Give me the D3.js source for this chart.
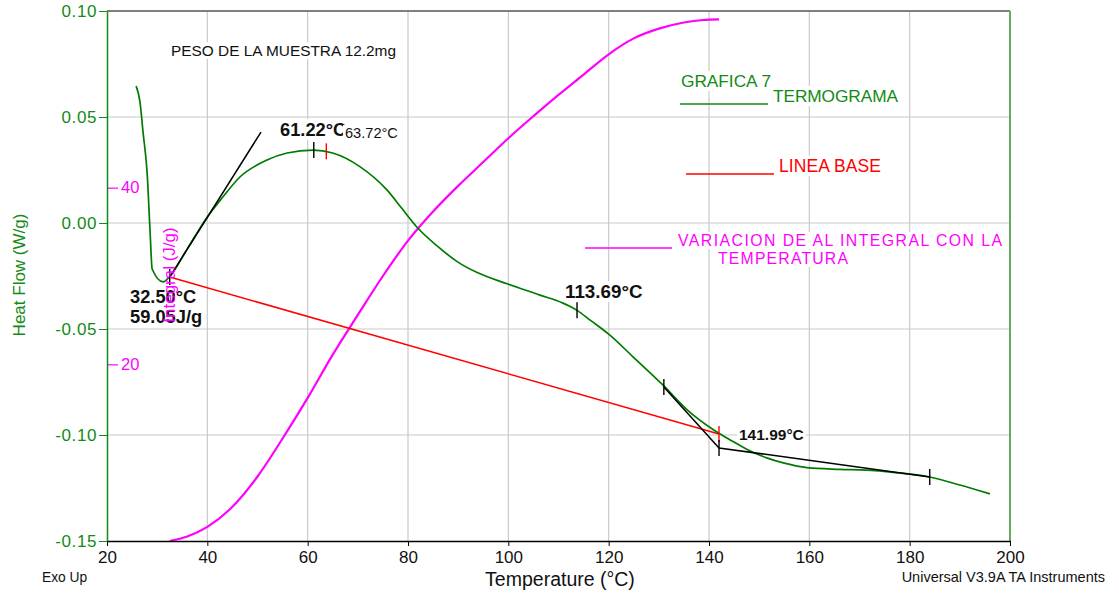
<!DOCTYPE html>
<html>
<head>
<meta charset="utf-8">
<script src="https://cdn.jsdelivr.net/npm/d3@7"></script>
<style>
  body { margin: 0; background: #fff; }
  svg { display: block; font-family: "Liberation Sans", Arial, sans-serif; }
</style>
</head>
<body>
<div id="chart"></div>
<script>
// heat flow (W/g), [temperature °C, W/g]
const heatFlow = [
  [25.8, 0.0646], [26.6, 0.0566], [27.2, 0.0425], [28.0, 0.0236], [28.6, -0.0047],
  [29.0, -0.0217], [31.2, -0.0278], [32.5, -0.0252], [36.0, -0.0122], [39.9, 0.0025],
  [43.0, 0.0120], [46.5, 0.0217], [51.9, 0.0297], [55.9, 0.0330], [61.1, 0.0344],
  [65.0, 0.0330], [70.4, 0.0266], [75.8, 0.0156], [78.8, 0.0068], [81.8, -0.0020],
  [85.8, -0.0108], [89.8, -0.0182], [93.8, -0.0234], [99.9, -0.0288], [106.3, -0.0340],
  [110.9, -0.0378], [113.7, -0.0412], [116.3, -0.0458], [120.3, -0.0530], [124.8, -0.0630],
  [130.8, -0.0764], [135.6, -0.0880], [140.8, -0.0974], [144.8, -0.1031], [147.6, -0.1068],
  [151.5, -0.1108], [155.0, -0.1133], [159.5, -0.1154], [166.1, -0.1162], [171.5, -0.1166],
  [176.7, -0.1176], [184.0, -0.1198], [190.0, -0.1236], [196.0, -0.1278]
];

// running integral (J/g), [temperature °C, J/g]
const integral = [
  [32.5, 0], [36.0, 0.5], [40.0, 1.6], [44.5, 3.6], [50.0, 7.3], [55.0, 11.6],
  [60.0, 16.2], [65.0, 21.1], [70.0, 25.6], [75.0, 30.0], [80.0, 34.0], [85.0, 37.3],
  [90.0, 40.2], [95.0, 42.9], [100.0, 45.6], [105.0, 48.1], [110.0, 50.5], [115.0, 52.8],
  [120.0, 55.1], [125.0, 56.9], [130.0, 58.0], [135.0, 58.7], [138.8, 58.98], [142.0, 59.05]
];

const baseline = [[32.5, -0.0255], [141.99, -0.0995]];
const onsetTangent = [[32.5, -0.0255], [50.7, 0.0429]];
const endTangent = [[131.0, -0.0774], [142.0, -0.1061], [184.0, -0.1198]];

// small vertical marks on the curves
const marks = [
  [32.5, -0.0255, "black"], [61.22, 0.0344, "black"], [63.72, 0.0338, "red"],
  [113.69, -0.0412, "black"], [131.0, -0.0774, "black"], [141.99, -0.0995, "red"],
  [142.0, -0.1061, "black"], [184.0, -0.1198, "black"]
];

const xTicks = [20, 40, 60, 80, 100, 120, 140, 160, 180, 200];
const yTicks = [0.10, 0.05, 0.00, -0.05, -0.10, -0.15];
const integralTicks = [20, 40];

const width = 1119, height = 596;
const green = "#138a13", curveGreen = "#007a00", magenta = "#ff00ff";

const x = d3.scaleLinear([20, 200], [107, 1010]);
const y = d3.scaleLinear([-0.15, 0.10], [541, 11]);
const yI = d3.scaleLinear([0, 60], [541, 11]);

const svg = d3.select("#chart").append("svg")
  .attr("width", width).attr("height", height);

// grid
svg.append("g").selectAll("line")
  .data(xTicks.slice(1, -1)).join("line")
  .attr("x1", d => x(d)).attr("x2", d => x(d))
  .attr("y1", y(0.10)).attr("y2", y(-0.15))
  .attr("stroke", "#cacaca").attr("stroke-width", 1.2);
svg.append("g").selectAll("line")
  .data(yTicks.slice(1, -1)).join("line")
  .attr("x1", x(20)).attr("x2", x(200))
  .attr("y1", d => y(d)).attr("y2", d => y(d))
  .attr("stroke", "#cacaca").attr("stroke-width", 1.2);

// frame: top and right
svg.append("line").attr("x1", x(20)).attr("x2", x(200)).attr("y1", y(0.10)).attr("y2", y(0.10))
  .attr("stroke", "#555").attr("stroke-width", 1.5);
svg.append("line").attr("x1", x(200)).attr("x2", x(200)).attr("y1", y(0.10)).attr("y2", y(-0.15))
  .attr("stroke", "#66aa5e").attr("stroke-width", 2);

// texts with white boxes behind them (they cut the grid)
const notes = svg.append("g");
const addNote = (tx, ty, str, opts = {}) => {
  const t = notes.append("text")
    .attr("x", tx).attr("y", ty)
    .attr("font-size", opts.size || 15)
    .attr("font-weight", opts.bold ? "bold" : null)
    .attr("fill", opts.color || "#111")
    .text(str);
  if (opts.len) t.attr("textLength", opts.len).attr("lengthAdjust", "spacing");
  return t;
};
addNote(171, 56, "PESO DE LA MUESTRA 12.2mg", { size: 15.4, len: 225 });
addNote(280, 136, "61.22°C", { size: 18.3, bold: true });
addNote(345, 138, "63.72°C", { size: 14.6 });
addNote(130, 303, "32.50°C", { size: 18.3, bold: true });
addNote(130, 323, "59.05J/g", { size: 18.3, bold: true });
addNote(565, 298, "113.69°C", { size: 18.8, bold: true });
addNote(739, 440, "141.99°C", { size: 15.5, bold: true });
addNote(681, 87, "GRAFICA 7", { size: 17.3, color: green, len: 90 });
addNote(773, 102, "TERMOGRAMA", { size: 17.3, color: green, len: 125 });
addNote(779, 172, "LINEA BASE", { size: 17.5, color: "#ff0000", len: 102 });
addNote(678, 246, "VARIACION DE AL INTEGRAL CON LA", { size: 15.8, color: magenta, len: 324 });
addNote(718, 264, "TEMPERATURA", { size: 15.8, color: magenta, len: 130 });
notes.selectAll("text").each(function () {
  const b = this.getBBox();
  notes.insert("rect", () => this)
    .attr("x", b.x - 2).attr("y", b.y).attr("width", b.width + 4).attr("height", b.height)
    .attr("fill", "#fff");
});

// legend swatches drawn as underlines
const swatches = [[680, 768, 104, green], [686, 774, 174, "#ff0000"], [585, 672, 248, magenta]];
svg.append("g").selectAll("line").data(swatches).join("line")
  .attr("x1", d => d[0]).attr("x2", d => d[1])
  .attr("y1", d => d[2]).attr("y2", d => d[2])
  .attr("stroke", d => d[3]).attr("stroke-width", 1.4);

// curves
const line = d3.line().x(d => x(d[0])).y(d => y(d[1]));
const smooth = d3.line().x(d => x(d[0])).y(d => y(d[1])).curve(d3.curveMonotoneX);
const lineI = d3.line().x(d => x(d[0])).y(d => yI(d[1])).curve(d3.curveMonotoneX);

svg.append("path").attr("d", lineI(integral))
  .attr("fill", "none").attr("stroke", magenta).attr("stroke-width", 2.2);
svg.append("path").attr("d", line(baseline))
  .attr("fill", "none").attr("stroke", "#ff0000").attr("stroke-width", 1.5);
svg.append("path").attr("d", smooth(heatFlow))
  .attr("fill", "none").attr("stroke", curveGreen).attr("stroke-width", 1.7);
[onsetTangent, endTangent].forEach(seg => {
  svg.append("path").attr("d", line(seg))
    .attr("fill", "none").attr("stroke", "#000").attr("stroke-width", 1.5);
});
svg.append("g").selectAll("line").data(marks).join("line")
  .attr("x1", d => x(d[0])).attr("x2", d => x(d[0]))
  .attr("y1", d => y(d[1]) - 8).attr("y2", d => y(d[1]) + 8)
  .attr("stroke", d => d[2]).attr("stroke-width", 1.4);

// x axis
const xAxisG = svg.append("g").attr("transform", `translate(0,${y(-0.15)})`);
xAxisG.call(d3.axisBottom(x).tickValues(d3.range(20, 201, 5)).tickSize(5).tickFormat(""))
  .call(g => g.select(".domain").remove());
xAxisG.call(d3.axisBottom(x).tickValues(xTicks).tickSize(5).tickPadding(5).tickSizeOuter(0))
  .call(g => g.selectAll("text").attr("font-size", 17).attr("fill", "#111")
    .attr("font-family", "Liberation Sans, Arial, sans-serif"));
xAxisG.selectAll(".domain").attr("stroke", "#000").attr("stroke-width", 1.5);

// left heat-flow axis
const yAxisG = svg.append("g").attr("transform", `translate(${x(20)},0)`);
yAxisG.call(d3.axisLeft(y).tickValues(d3.range(-0.15, 0.1001, 0.0125)).tickSize(4).tickFormat(""))
  .call(g => g.select(".domain").remove());
yAxisG.call(d3.axisLeft(y).tickValues(yTicks).tickSize(8).tickPadding(2).tickSizeOuter(0)
    .tickFormat(d => d.toFixed(2)))
  .call(g => g.selectAll("text").attr("font-size", 17).attr("fill", green)
    .attr("font-family", "Liberation Sans, Arial, sans-serif").attr("letter-spacing", 0.6));
yAxisG.selectAll("line, .domain").attr("stroke", green);
yAxisG.select(".domain").attr("stroke-width", 1.5);

// integral axis ticks, inside on the same line
const iAxisG = svg.append("g").attr("transform", `translate(${x(20) + 1},0)`);
iAxisG.call(d3.axisRight(yI).tickValues(d3.range(0, 61, 5)).tickSize(5).tickFormat(""))
  .call(g => g.select(".domain").remove());
iAxisG.call(d3.axisRight(yI).tickValues(integralTicks).tickSize(10).tickPadding(3))
  .call(g => g.select(".domain").remove())
  .call(g => g.selectAll("text").attr("font-size", 16.5).attr("fill", magenta)
    .attr("font-family", "Liberation Sans, Arial, sans-serif"));
iAxisG.selectAll("line").attr("stroke", magenta).attr("stroke-width", 1.2);

// axis titles
svg.append("text").attr("transform", `translate(19,275) rotate(-90)`)
  .attr("text-anchor", "middle").attr("dominant-baseline", "central")
  .attr("font-size", 17).attr("fill", green).text("Heat Flow (W/g)");
svg.append("text").attr("transform", `translate(169,275) rotate(-90)`)
  .attr("text-anchor", "middle").attr("dominant-baseline", "central")
  .attr("font-size", 17).attr("fill", magenta).text("Integral (J/g)");
svg.append("text").attr("x", 560).attr("y", 586).attr("text-anchor", "middle")
  .attr("font-size", 19.5).attr("fill", "#111").text("Temperature (°C)");
svg.append("text").attr("x", 42).attr("y", 582)
  .attr("font-size", 13.8).attr("fill", "#111").text("Exo Up");
svg.append("text").attr("x", 1105).attr("y", 582).attr("text-anchor", "end")
  .attr("font-size", 14.5).attr("fill", "#111").text("Universal V3.9A TA Instruments");
</script>
</body>
</html>
